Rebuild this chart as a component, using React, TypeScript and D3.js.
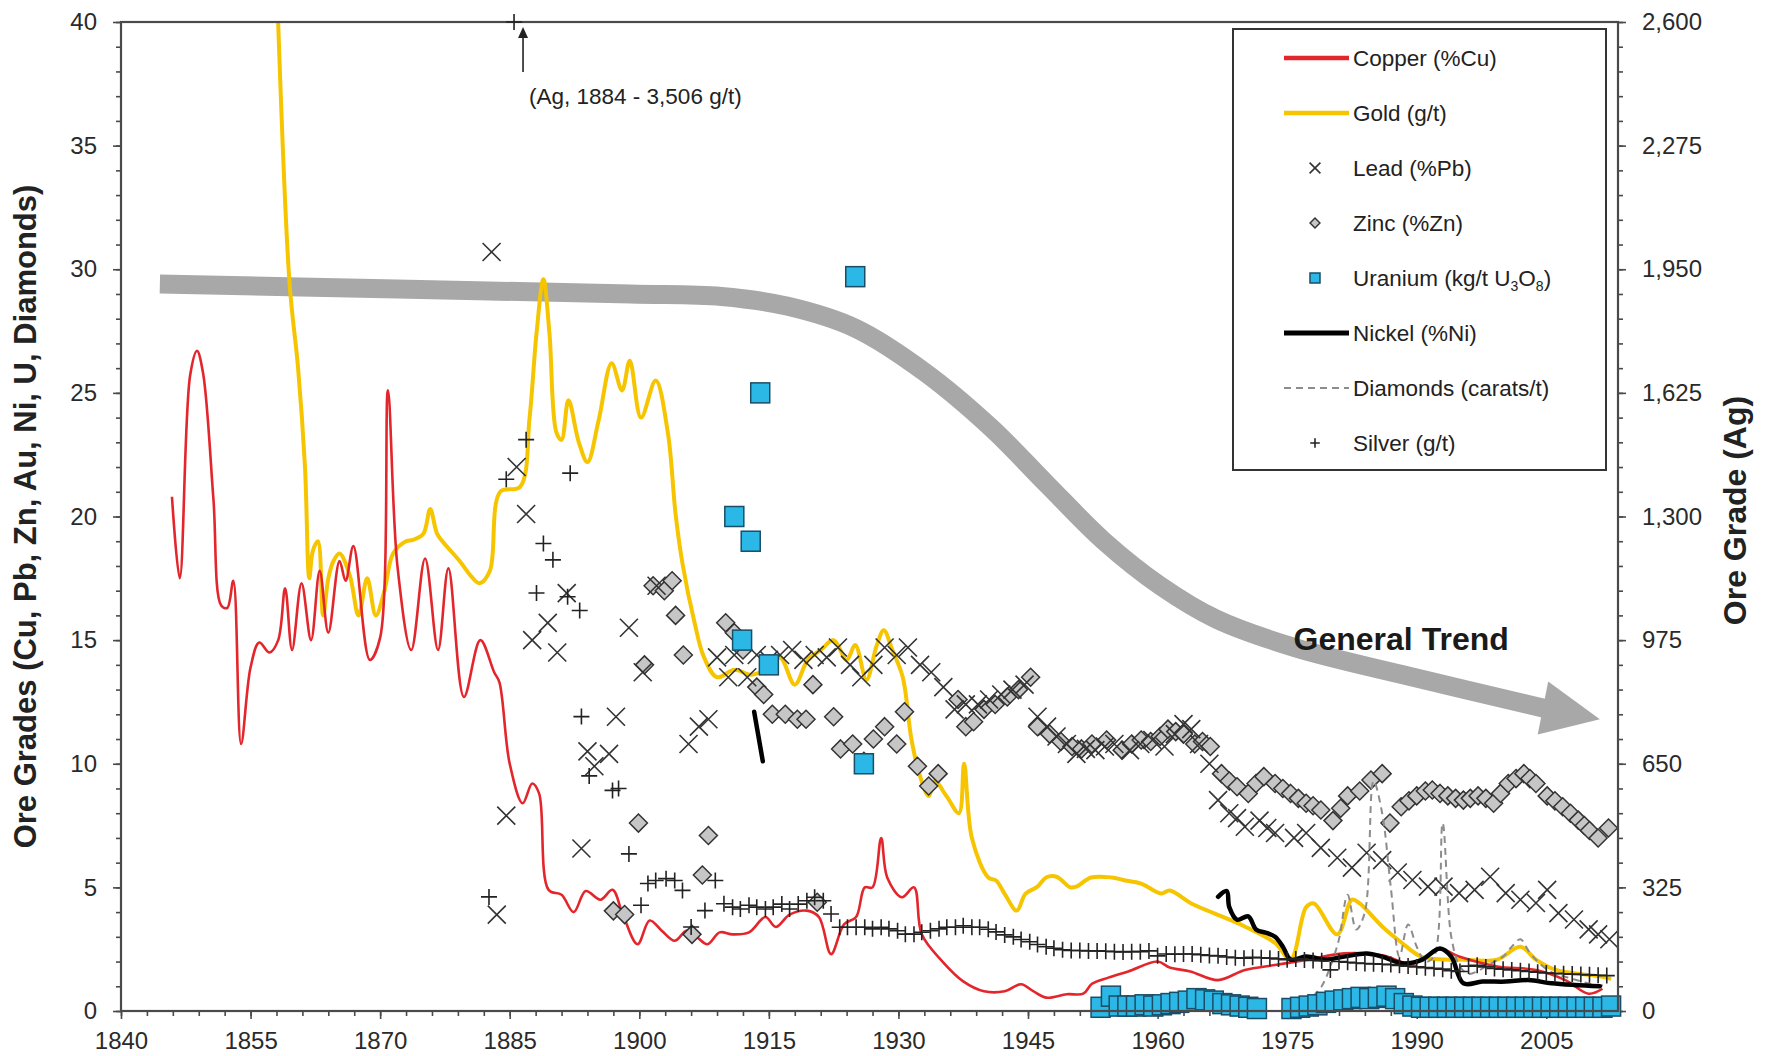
import React, { useEffect, useRef } from 'react';
import * as d3 from 'd3';

type Pt = [number, number];

const WIDTH = 1766;
const HEIGHT = 1056;

// tick values
const yearTicks = [1840, 1855, 1870, 1885, 1900, 1915, 1930, 1945, 1960, 1975, 1990, 2005];
const gradeTicks = [0, 5, 10, 15, 20, 25, 30, 35, 40];
const silverTicks = [0, 325, 650, 975, 1300, 1625, 1950, 2275, 2600];

// copper, %Cu
const copper: Pt[] = [
  [1845.9, 20.8], [1846.8, 17.5], [1848, 25.7], [1848.8, 26.7], [1849.5, 25.8], [1850.7, 20.7],
  [1851.6, 16.4], [1852.3, 16.3], [1853, 17.4], [1853.9, 10.8], [1855, 13.9], [1856, 14.9],
  [1857.2, 14.5], [1858.2, 15.0], [1859, 17.1], [1859.8, 14.6], [1860.9, 17.3], [1862, 15.0],
  [1863, 17.8], [1864, 15.3], [1865.3, 18.2], [1866, 17.4], [1866.9, 18.8], [1868.8, 14.2],
  [1870, 15.1], [1870.9, 25.1], [1872, 18.0], [1873.6, 14.6], [1875.2, 18.3], [1876.7, 14.6],
  [1877.9, 17.9], [1879.7, 12.7], [1881.6, 15.0], [1883.2, 13.7], [1883.8, 13.3], [1885, 10.0],
  [1886.5, 8.4], [1887.6, 9.2], [1888.4, 8.8], [1889.5, 4.9], [1891, 4.7], [1892.4, 4.0],
  [1893.8, 4.85], [1895.5, 4.5], [1896.9, 4.9], [1898.1, 3.9], [1899.8, 2.7], [1901.2, 3.66],
  [1902.6, 3.25], [1904.1, 2.84], [1905.5, 3.25], [1906.7, 2.98], [1907.9, 2.7], [1909.3, 3.18],
  [1910.8, 3.1], [1912.7, 3.18], [1914.6, 3.8], [1915.8, 3.4], [1917.4, 3.9], [1919.4, 4.06],
  [1920.8, 3.8], [1922.2, 2.3], [1923.7, 3.5], [1925.1, 3.8], [1926.1, 5.0], [1927, 5.0],
  [1928, 7.0], [1928.7, 5.4], [1930.4, 4.6], [1931.8, 5.0], [1932.7, 3.1], [1935.1, 2.0],
  [1937.5, 1.2], [1939.9, 0.8], [1942.3, 0.8], [1944.2, 1.08], [1945.6, 0.8], [1947.1, 0.54],
  [1949.5, 0.68], [1951.4, 0.7], [1952.4, 1.1], [1954.3, 1.35], [1956.6, 1.6], [1960, 2.0],
  [1961.4, 1.76], [1963.8, 1.6], [1967, 1.25], [1970.1, 1.66], [1973.6, 1.86], [1977.2, 2.06],
  [1981.6, 2.33], [1986, 2.25], [1989.5, 1.9], [1992.7, 2.5], [1994.9, 2.2], [1999.3, 1.8],
  [2003.8, 1.66], [2007.2, 1.25], [2009.9, 0.7], [2011.5, 0.9],
];

// gold, g/t
const gold: Pt[] = [
  [1858, 42], [1859.5, 29.5], [1860.5, 26], [1861.3, 22], [1861.8, 17.5], [1862.2, 18.6],
  [1862.8, 19.0], [1863.4, 16.0], [1864, 17.5], [1864.6, 18.2], [1865.3, 18.5], [1866.5, 17.6],
  [1867.5, 16.0], [1868.5, 17.5], [1869.5, 16.0], [1870.5, 17.0], [1871.5, 18.5], [1873, 19.0],
  [1873.8, 19.05], [1875, 19.3], [1875.8, 20.3], [1876.6, 19.3], [1877.7, 18.8], [1879.2, 18.2],
  [1880.5, 17.6], [1881.5, 17.3], [1882.7, 17.8], [1883.9, 21.0], [1886.2, 21.2], [1887.3, 24.0],
  [1888.1, 27.4], [1888.9, 29.6], [1889.6, 27.4], [1890.4, 23.4], [1891, 23.1], [1891.8, 24.7],
  [1893, 23.0], [1894, 22.2], [1895.3, 23.9], [1896.8, 26.2], [1898, 25.1], [1898.9, 26.3],
  [1900.2, 24.0], [1901.9, 25.5], [1903.3, 23.4], [1904.2, 20.1], [1905, 18.1], [1906.4, 15.7],
  [1907.5, 14.3], [1909, 13.5], [1911, 13.8], [1913, 13.6], [1915, 13.9], [1916.3, 14.3],
  [1918, 13.2], [1919.5, 14.2], [1921, 14.6], [1922.5, 15.0], [1924, 14.2], [1925, 14.8],
  [1926.3, 13.4], [1927.5, 14.8], [1928.3, 15.4], [1929.3, 14.6], [1930.5, 13.5], [1931.5, 11.0],
  [1932.5, 9.5], [1933.5, 8.7], [1934.2, 9.3], [1935.6, 8.67], [1937, 8.0], [1937.6, 10.0],
  [1938.5, 7.0], [1940.4, 5.4], [1941.3, 5.28], [1942.3, 4.74], [1943.7, 4.06], [1944.7, 4.74],
  [1946.1, 5.03], [1947.1, 5.4], [1948.3, 5.43], [1949.9, 5.0], [1950.6, 5.03], [1952.3, 5.4],
  [1954.7, 5.4], [1956, 5.3], [1958.1, 5.15], [1960.4, 4.75], [1961.4, 4.87], [1963.9, 4.35],
  [1966.5, 3.96], [1970.1, 3.42], [1973.6, 2.75], [1975.4, 2.08], [1977.2, 4.2], [1978.1, 4.35],
  [1980.8, 3.1], [1982.5, 4.5], [1983.4, 4.35], [1986, 3.42], [1988.3, 2.75], [1990.5, 2.2],
  [1993.1, 2.08], [1994.9, 2.08], [1999.3, 2.08], [2002, 2.6], [2003.8, 2.08], [2006.1, 1.66],
  [2011.2, 1.4], [2012.5, 1.3],
];

// lead, %Pb
const lead: Pt[] = [
  [1882.9, 30.7], [1883.5, 3.9], [1884.6, 7.9], [1885.8, 22.0], [1886.9, 20.1], [1887.6, 15.0],
  [1889.4, 15.7], [1890.5, 14.5], [1891.6, 16.9], [1893.3, 6.57], [1894, 10.5], [1894.8, 9.9],
  [1896.5, 10.4], [1897.3, 11.9], [1898.8, 15.5], [1900.4, 13.7], [1902, 17.2], [1905.7, 10.8],
  [1906.9, 11.5], [1908, 11.8], [1909, 14.3], [1910.3, 13.5], [1911, 14.4], [1912.5, 13.5],
  [1913.6, 14.4], [1915, 14.2], [1916.3, 14.4], [1917.7, 14.6], [1919, 14.2], [1920.3, 14.4],
  [1921.7, 14.3], [1923, 14.7], [1924.4, 14.0], [1925.7, 13.5], [1927.1, 14.0], [1928.4, 14.7],
  [1929.8, 14.4], [1931.1, 14.7], [1932.5, 14.0], [1933.8, 13.7], [1935.2, 13.1], [1936.5, 12.2],
  [1937.8, 12.4], [1939.2, 12.4], [1940.5, 12.6], [1941.9, 12.8], [1943.2, 13.0], [1944.6, 13.2],
  [1946.1, 11.9], [1947.2, 11.5], [1948.3, 11.1], [1949.5, 10.8], [1950.6, 10.4], [1951.7, 10.6],
  [1952.8, 10.55], [1953.9, 10.7], [1955, 10.8], [1956.8, 10.55], [1958, 10.8], [1959.4, 10.96],
  [1960.8, 10.7], [1962, 11.2], [1963, 11.6], [1963.9, 11.4], [1964.8, 10.8], [1966, 10.0],
  [1967, 8.53], [1968.3, 8.0], [1969.2, 7.8], [1970.1, 7.45], [1971.8, 7.7], [1972.7, 7.4],
  [1973.6, 7.2], [1975.8, 7.0], [1977.2, 7.2], [1978.9, 6.6], [1980.8, 6.2], [1982.5, 5.8],
  [1984.2, 6.4], [1986, 6.1], [1987.8, 5.6], [1989.5, 5.3], [1991.3, 5.03], [1993.1, 5.03],
  [1994.9, 4.77], [1996.7, 4.9], [1998.5, 5.43], [2000.3, 4.77], [2002, 4.5], [2003.8, 4.37],
  [2005.1, 4.9], [2006.4, 3.96], [2008.2, 3.7], [2009.9, 3.3], [2011, 3.1], [2012.3, 2.9],
];

// zinc, %Zn
const zinc: Pt[] = [
  [1897, 4.05], [1898.3, 3.9], [1899.9, 7.6], [1900.6, 14.0], [1901.6, 17.2], [1902.9, 17.0],
  [1903.8, 17.4], [1904.2, 16.0], [1905.1, 14.4], [1906.1, 3.1], [1907.3, 5.5], [1908, 7.1],
  [1910, 15.7], [1911, 15.3], [1912, 14.6], [1913.6, 13.1], [1914.4, 12.8], [1915.4, 12.0],
  [1916.9, 12.0], [1918.3, 11.8], [1919.3, 11.8], [1920.1, 13.2], [1920.6, 4.4], [1922.5, 11.9],
  [1923.3, 10.6], [1924.7, 10.8], [1926, 10.1], [1927.1, 11.0], [1928.4, 11.5], [1929.8, 10.8],
  [1930.7, 12.1], [1932.2, 9.9], [1933.5, 9.1], [1934.6, 9.6], [1936.9, 12.6], [1937.8, 11.5],
  [1938.7, 11.7], [1939.9, 12.2], [1941.2, 12.4], [1942.6, 12.7], [1943.9, 13.0], [1945.3, 13.5],
  [1946.1, 11.5], [1947.5, 11.2], [1948.8, 10.9], [1950.1, 10.7], [1951.2, 10.6], [1952.4, 10.8],
  [1954.1, 10.96], [1955.9, 10.55], [1957, 10.8], [1958.1, 10.96], [1959.2, 10.9], [1960.3, 11.1],
  [1961.2, 11.4], [1962.1, 11.3], [1963, 11.2], [1964.3, 10.8], [1965.2, 10.9], [1966.1, 10.7],
  [1967.4, 9.6], [1968.3, 9.3], [1969.2, 9.07], [1970.5, 8.8], [1971.4, 9.2], [1972.3, 9.48],
  [1973.6, 9.2], [1974.5, 9.0], [1975.4, 8.8], [1976.3, 8.6], [1977.2, 8.4], [1978, 8.3],
  [1978.9, 8.13], [1980.3, 7.7], [1981.2, 8.2], [1982, 8.7], [1983.4, 8.9], [1984.7, 9.34],
  [1986, 9.6], [1986.9, 7.6], [1988.2, 8.26], [1989.1, 8.5], [1990, 8.7], [1991, 8.9],
  [1991.8, 8.94], [1992.7, 8.8], [1993.6, 8.7], [1994.5, 8.6], [1995.4, 8.53], [1996.2, 8.6],
  [1997.1, 8.7], [1998, 8.6], [1998.9, 8.4], [1999.7, 8.8], [2000.6, 9.2], [2001.5, 9.4],
  [2002.4, 9.6], [2003.1, 9.4], [2003.8, 9.2], [2005.1, 8.7], [2006, 8.5], [2006.9, 8.26],
  [2007.8, 8.0], [2008.7, 7.72], [2009.4, 7.5], [2010, 7.3], [2011, 7.0], [2012.2, 7.4],
];

// uranium, kg/t U3O8
const uranium: Pt[] = [
  [1911, 20], [1911.9, 15], [1912.9, 19], [1914, 25], [1915, 14], [1925, 29.7], [1926, 10],
  [1953.4, 0.15], [1954.6, 0.6], [1955.5, 0.2], [1956.5, 0.2], [1957.5, 0.2], [1958.5, 0.25],
  [1959.5, 0.2], [1960.5, 0.25], [1961.5, 0.3], [1962.5, 0.35], [1963.5, 0.4], [1964.5, 0.5],
  [1965.5, 0.45], [1966.5, 0.4], [1967.5, 0.3], [1968.5, 0.25], [1969.5, 0.2], [1970.5, 0.15],
  [1971.5, 0.1], [1975.5, 0.1], [1976.5, 0.15], [1977.5, 0.2], [1978.5, 0.25], [1979.5, 0.35],
  [1980.5, 0.4], [1981.5, 0.45], [1982.5, 0.5], [1983.5, 0.55], [1984.5, 0.5], [1985.5, 0.55],
  [1986.5, 0.6], [1987.5, 0.5], [1988.5, 0.3], [1989.5, 0.2], [1990.5, 0.15], [1991.5, 0.15],
  [1992.5, 0.15], [1993.5, 0.15], [1994.5, 0.15], [1995.5, 0.15], [1996.5, 0.15], [1997.5, 0.15],
  [1998.5, 0.15], [1999.5, 0.15], [2000.5, 0.15], [2001.5, 0.15], [2002.5, 0.15], [2003.5, 0.15],
  [2004.5, 0.15], [2005.5, 0.15], [2006.5, 0.15], [2007.5, 0.15], [2008.5, 0.15], [2009.5, 0.15],
  [2010.5, 0.15], [2011.5, 0.15], [2012.5, 0.2],
];

// nickel, %Ni (two runs)
const nickelEarly: Pt[] = [[1913.3, 12.1], [1914.3, 10.1]];
const nickelLate: Pt[] = [
  [1967, 4.62], [1968, 4.85], [1968.3, 4.2], [1969.2, 3.69], [1970.5, 3.83], [1971.4, 3.3],
  [1972.7, 3.15], [1973.6, 3.0], [1974.5, 2.6], [1975.4, 2.08], [1977.2, 2.2], [1979.4, 2.08],
  [1981.6, 2.2], [1984.2, 2.33], [1986, 2.2], [1988.3, 1.93], [1990.5, 2.06], [1992.7, 2.53],
  [1994, 2.2], [1995.4, 1.12], [1997.6, 1.19], [2000.3, 1.19], [2002.9, 1.25], [2005.6, 1.12],
  [2008.3, 1.05], [2011.2, 1.0],
];

// diamonds, carats/t
const diamonds: Pt[] = [
  [1978, 0.6], [1979, 1.0], [1980, 1.8], [1981, 2.9], [1982, 4.7], [1983, 3.3], [1984, 4.0],
  [1985, 9.3], [1986, 8.0], [1987, 5.0], [1988, 2.2], [1989, 3.5], [1990, 2.6], [1991, 2.0],
  [1992, 2.2], [1993, 7.6], [1994, 3.0], [1995, 1.8], [1996, 1.5], [1997, 1.6], [1998, 1.8],
  [1999, 2.0], [2000, 2.2], [2001, 2.6], [2002, 2.9], [2003, 2.4], [2004, 2.0], [2005, 1.7],
  [2006, 1.5], [2007, 1.4], [2008, 1.3], [2009, 1.2], [2010, 1.1], [2011, 1.0], [2012, 1.1],
];

// silver, g/t (right axis)
const silver: Pt[] = [
  [1882.6, 300], [1884.6, 1398], [1885.5, 3506], [1886.9, 1502], [1888.1, 1099], [1888.9, 1229],
  [1890, 1186], [1891.7, 1089], [1892, 1414], [1893.1, 1053], [1893.3, 774], [1894.2, 618],
  [1896.9, 580], [1897.6, 585], [1898.8, 413], [1900.2, 278], [1901, 335], [1901.9, 343],
  [1903.1, 348], [1904.1, 343], [1905, 317], [1906, 221], [1907.6, 264], [1908.8, 343],
  [1909.8, 282], [1910.8, 273], [1911.7, 268], [1912.7, 278], [1913.6, 273], [1914.6, 268],
  [1915.5, 273], [1916.5, 281], [1917.4, 268], [1918.4, 281], [1919.4, 290], [1920.3, 299],
  [1921.3, 290], [1922.2, 255], [1923.2, 220], [1924.1, 220], [1925.1, 220], [1926.1, 220],
  [1927, 216], [1928, 220], [1928.9, 216], [1929.9, 211], [1930.8, 202], [1931.8, 202],
  [1932.7, 207], [1933.7, 211], [1934.7, 216], [1935.6, 220], [1936.6, 220], [1937.5, 224],
  [1938.5, 220], [1939.4, 220], [1940.4, 215], [1941.3, 208], [1942.3, 200], [1943.3, 195],
  [1944.2, 188], [1945.2, 182], [1946.1, 175], [1947.1, 169], [1948, 165], [1949, 161],
  [1950, 159], [1951, 159], [1952, 158], [1953, 158], [1954, 157], [1955, 156], [1956, 155],
  [1957, 156], [1958, 156], [1959, 158], [1960, 145], [1961, 150], [1962, 149], [1963, 150],
  [1964, 150], [1965, 148], [1966, 146], [1967, 145], [1968, 142], [1969, 140], [1970, 139],
  [1971, 141], [1972, 140], [1973, 139], [1974, 137], [1975, 135], [1976, 137], [1977, 134],
  [1978, 133], [1979, 132], [1980, 108], [1981, 130], [1982, 128], [1983, 126], [1984, 125],
  [1985, 124], [1986, 123], [1987, 122], [1988, 120], [1989, 118], [1990, 116], [1991, 114],
  [1992, 112], [1993, 110], [1994, 106], [1995, 104], [1996, 118], [1997, 120], [1998, 116],
  [1999, 112], [2000, 110], [2001, 108], [2002, 106], [2003, 104], [2004, 102], [2005, 100],
  [2006, 99], [2007, 98], [2008, 97], [2009, 96], [2010, 95], [2011, 94], [2012, 93],
];

// the grey "general trend" arrow, in year / grade units
const trendYears = [1844.5, 1872, 1899, 1909.5, 1917.2, 1925.1, 1933, 1940.7, 1947.2, 1953.8, 1960.3, 1966.8, 1975.9, 1989, 2002.5];
const trendGrades = [29.4, 29.2, 29.0, 28.9, 28.5, 27.6, 25.85, 23.6, 21.3, 19.0, 17.2, 15.85, 14.7, 13.55, 12.4];
const trendTip: Pt = [2011.2, 11.8];

const legendItems = ['Copper (%Cu)', 'Gold (g/t)', 'Lead (%Pb)', 'Zinc (%Zn)', 'Uranium', 'Nickel (%Ni)', 'Diamonds (carats/t)', 'Silver (g/t)'];

const FONT = '"Liberation Sans", Arial, Helvetica, sans-serif';
const RED = '#e3262b';
const GOLD = '#f6c500';
const CYAN = '#2bb8e6';
const CYAN_EDGE = '#1a4d66';
const ZINC_FILL = '#c6c6c6';
const TREND = '#a8a8a8';

const App: React.FC = () => {
  const ref = useRef<SVGSVGElement>(null);

  useEffect(() => {
    if (!ref.current) return;
    const svg = d3.select(ref.current);
    svg.selectAll('*').remove();

    const left = 121, right = 1618, top = 22, bottom = 1011;
    const x = d3.scaleLinear().domain([1840, 2013.3]).range([left, right]);
    const y = d3.scaleLinear().domain([0, 40]).range([bottom, top]);
    const yAg = d3.scaleLinear().domain([0, 2600]).range([bottom, top]);

    svg.append('rect').attr('width', WIDTH).attr('height', HEIGHT).attr('fill', '#fff');

    svg.append('defs').append('clipPath').attr('id', 'plot-clip')
      .append('rect').attr('x', left).attr('y', top).attr('width', right - left).attr('height', bottom - top);

    // axes
    const axisColor = '#4a4a4a';
    const styleAxis = (g: d3.Selection<SVGGElement, unknown, null, undefined>) => {
      g.select('.domain').remove();
      g.selectAll('line').attr('stroke', axisColor).attr('stroke-width', 1.6);
      g.selectAll('text').attr('fill', '#2a2a2a').attr('font-family', FONT).attr('font-size', 24);
    };

    svg.append('g').attr('transform', `translate(0,${bottom})`)
      .call(d3.axisBottom(x).tickValues(d3.range(1840, 2013, 3)).tickSize(5).tickFormat(() => ''))
      .call(styleAxis);
    svg.append('g').attr('transform', `translate(0,${bottom})`)
      .call(d3.axisBottom(x).tickValues(yearTicks).tickSize(8).tickPadding(13).tickFormat(d3.format('d')))
      .call(styleAxis);

    svg.append('g').attr('transform', `translate(${left},0)`)
      .call(d3.axisLeft(y).tickValues(d3.range(0, 41, 1)).tickSize(5).tickFormat(() => ''))
      .call(styleAxis);
    svg.append('g').attr('transform', `translate(${left},0)`)
      .call(d3.axisLeft(y).tickValues(gradeTicks).tickSize(8).tickPadding(16).tickFormat(d3.format('d')))
      .call(styleAxis);

    svg.append('g').attr('transform', `translate(${right},0)`)
      .call(d3.axisRight(yAg).tickValues(d3.range(0, 2601, 65)).tickSize(5).tickFormat(() => ''))
      .call(styleAxis);
    svg.append('g').attr('transform', `translate(${right},0)`)
      .call(d3.axisRight(yAg).tickValues(silverTicks).tickSize(8).tickPadding(16).tickFormat(d3.format(',')))
      .call(styleAxis);

    // axis titles
    svg.append('text')
      .attr('transform', `translate(36,${(top + bottom) / 2}) rotate(-90)`)
      .attr('text-anchor', 'middle').attr('font-family', FONT).attr('font-weight', 'bold')
      .attr('font-size', 31).attr('fill', '#222')
      .text('Ore Grades (Cu, Pb, Zn, Au, Ni, U, Diamonds)');
    svg.append('text')
      .attr('transform', `translate(1746,${(top + bottom) / 2 - 6}) rotate(-90)`)
      .attr('text-anchor', 'middle').attr('font-family', FONT).attr('font-weight', 'bold')
      .attr('font-size', 32).attr('fill', '#222')
      .text('Ore Grade (Ag)');

    const plot = svg.append('g').attr('clip-path', 'url(#plot-clip)');

    // general trend arrow
    const trendPts: Pt[] = trendYears.map((yr, i) => [x(yr), y(trendGrades[i])]);
    const tip: Pt = [x(trendTip[0]), y(trendTip[1])];
    const last = trendPts[trendPts.length - 1];
    const dx = tip[0] - last[0], dy = tip[1] - last[1];
    const len = Math.hypot(dx, dy);
    const ux = dx / len, uy = dy / len;
    const headLen = 58, headHalf = 27;
    const base: Pt = [tip[0] - ux * headLen, tip[1] - uy * headLen];
    trendPts[trendPts.length - 1] = [base[0] + ux * 2, base[1] + uy * 2];
    plot.append('path')
      .attr('d', d3.line().curve(d3.curveCatmullRom.alpha(0.5))(trendPts))
      .attr('fill', 'none').attr('stroke', TREND).attr('stroke-width', 19);
    plot.append('path')
      .attr('d', `M${tip[0]},${tip[1]}L${base[0] - uy * headHalf},${base[1] + ux * headHalf}L${base[0] + uy * headHalf},${base[1] - ux * headHalf}Z`)
      .attr('fill', TREND);

    const line = d3.line<Pt>().x(d => x(d[0])).y(d => y(d[1])).curve(d3.curveCatmullRom.alpha(0.5));

    plot.append('path').attr('d', line(gold)).attr('fill', 'none').attr('stroke', GOLD).attr('stroke-width', 4);
    plot.append('path').attr('d', line(copper)).attr('fill', 'none').attr('stroke', RED).attr('stroke-width', 2.6);

    // zinc diamonds
    const diamondPath = 'M0,-9L9,0L0,9L-9,0Z';
    plot.append('g').selectAll('path').data(zinc).join('path')
      .attr('transform', d => `translate(${x(d[0])},${y(d[1])})`)
      .attr('d', diamondPath).attr('fill', ZINC_FILL).attr('stroke', '#333').attr('stroke-width', 1.5);

    // lead crosses
    const crossPath = 'M-9,-9L9,9M-9,9L9,-9';
    plot.append('g').selectAll('path').data(lead).join('path')
      .attr('transform', d => `translate(${x(d[0])},${y(d[1])})`)
      .attr('d', crossPath).attr('fill', 'none').attr('stroke', '#333').attr('stroke-width', 1.6);

    // diamonds dashed
    plot.append('path').attr('d', line(diamonds)).attr('fill', 'none')
      .attr('stroke', '#8c8c8c').attr('stroke-width', 2).attr('stroke-dasharray', '7,5');

    // nickel
    [nickelEarly, nickelLate].forEach(run => {
      plot.append('path').attr('d', line(run)).attr('fill', 'none')
        .attr('stroke', '#000').attr('stroke-width', 4.5).attr('stroke-linecap', 'round');
    });

    // uranium squares (not clipped: the ones near zero overhang the axis)
    svg.append('g').selectAll('rect').data(uranium).join('rect')
      .attr('x', d => x(d[0]) - 9.5).attr('y', d => y(d[1]) - 10)
      .attr('width', 19).attr('height', 20)
      .attr('fill', CYAN).attr('stroke', CYAN_EDGE).attr('stroke-width', 1.5);

    // plot frame
    svg.append('rect').attr('x', left).attr('y', top).attr('width', right - left).attr('height', bottom - top)
      .attr('fill', 'none').attr('stroke', axisColor).attr('stroke-width', 2.2);

    // silver plus (drawn unclipped so the off-scale 1884 grade sits on the top border)
    const plusPath = 'M-8,0H8M0,-8V8';
    svg.append('g').selectAll('path').data(silver).join('path')
      .attr('transform', d => `translate(${x(d[0])},${Math.max(yAg(d[1]), top)})`)
      .attr('d', plusPath).attr('fill', 'none').attr('stroke', '#222').attr('stroke-width', 1.6);

    // annotation for the off-scale silver grade
    const agX = x(1885.5) + 9;
    const ann = svg.append('g');
    ann.append('line').attr('x1', agX).attr('x2', agX).attr('y1', top + 50).attr('y2', top + 12)
      .attr('stroke', '#222').attr('stroke-width', 1.6);
    ann.append('path').attr('d', `M${agX},${top + 5}L${agX - 5},${top + 16}L${agX + 5},${top + 16}Z`).attr('fill', '#222');
    ann.append('text').attr('x', agX + 6).attr('y', top + 82)
      .attr('font-family', FONT).attr('font-size', 22.5).attr('fill', '#222')
      .text('(Ag, 1884 - 3,506 g/t)');

    svg.append('text').attr('x', x(1988.2)).attr('y', y(14.6)).attr('text-anchor', 'middle')
      .attr('font-family', FONT).attr('font-weight', 'bold').attr('font-size', 32).attr('fill', '#1a1a1a')
      .text('General Trend');

    // legend
    const lg = svg.append('g');
    lg.append('rect').attr('x', 1233).attr('y', 29).attr('width', 373).attr('height', 441)
      .attr('fill', '#fff').attr('stroke', '#333').attr('stroke-width', 2);
    const rowY = d3.scalePoint<string>().domain(legendItems).range([58, 443]);
    const symX = 1315, lx1 = 1284, lx2 = 1349, tx = 1353;
    legendItems.forEach((name, i) => {
      const cy = rowY(name) as number;
      const row = lg.append('g');
      if (i === 0) row.append('line').attr('x1', lx1).attr('x2', lx2).attr('y1', cy).attr('y2', cy).attr('stroke', RED).attr('stroke-width', 4.5);
      if (i === 1) row.append('line').attr('x1', lx1).attr('x2', lx2).attr('y1', cy).attr('y2', cy).attr('stroke', GOLD).attr('stroke-width', 4.5);
      if (i === 2) row.append('path').attr('transform', `translate(${symX},${cy}) scale(0.6)`).attr('d', crossPath).attr('stroke', '#333').attr('stroke-width', 2.6).attr('fill', 'none');
      if (i === 3) row.append('path').attr('transform', `translate(${symX},${cy}) scale(0.55)`).attr('d', diamondPath).attr('fill', ZINC_FILL).attr('stroke', '#333').attr('stroke-width', 2.6);
      if (i === 4) row.append('rect').attr('x', symX - 5).attr('y', cy - 5).attr('width', 10).attr('height', 10).attr('fill', CYAN).attr('stroke', CYAN_EDGE).attr('stroke-width', 1.5);
      if (i === 5) row.append('line').attr('x1', lx1).attr('x2', lx2).attr('y1', cy).attr('y2', cy).attr('stroke', '#000').attr('stroke-width', 5);
      if (i === 6) row.append('line').attr('x1', lx1).attr('x2', lx2).attr('y1', cy).attr('y2', cy).attr('stroke', '#8c8c8c').attr('stroke-width', 2).attr('stroke-dasharray', '7,5');
      if (i === 7) row.append('path').attr('transform', `translate(${symX},${cy}) scale(0.6)`).attr('d', plusPath).attr('stroke', '#222').attr('stroke-width', 2.6).attr('fill', 'none');

      const t = row.append('text').attr('x', tx).attr('y', cy).attr('dy', '0.35em')
        .attr('font-family', FONT).attr('font-size', 22.5).attr('fill', '#222');
      if (name === 'Uranium') {
        t.append('tspan').text('Uranium  (kg/t U');
        t.append('tspan').attr('font-size', 14).attr('dy', 5).text('3');
        t.append('tspan').attr('dy', -5).text('O');
        t.append('tspan').attr('font-size', 14).attr('dy', 5).text('8');
        t.append('tspan').attr('dy', -5).text(')');
      } else {
        t.text(name);
      }
    });
  }, []);

  return (
    <svg
      ref={ref}
      width={WIDTH}
      height={HEIGHT}
      style={{ position: 'absolute', left: 0, top: 0, display: 'block' }}
    />
  );
};

export default App;
